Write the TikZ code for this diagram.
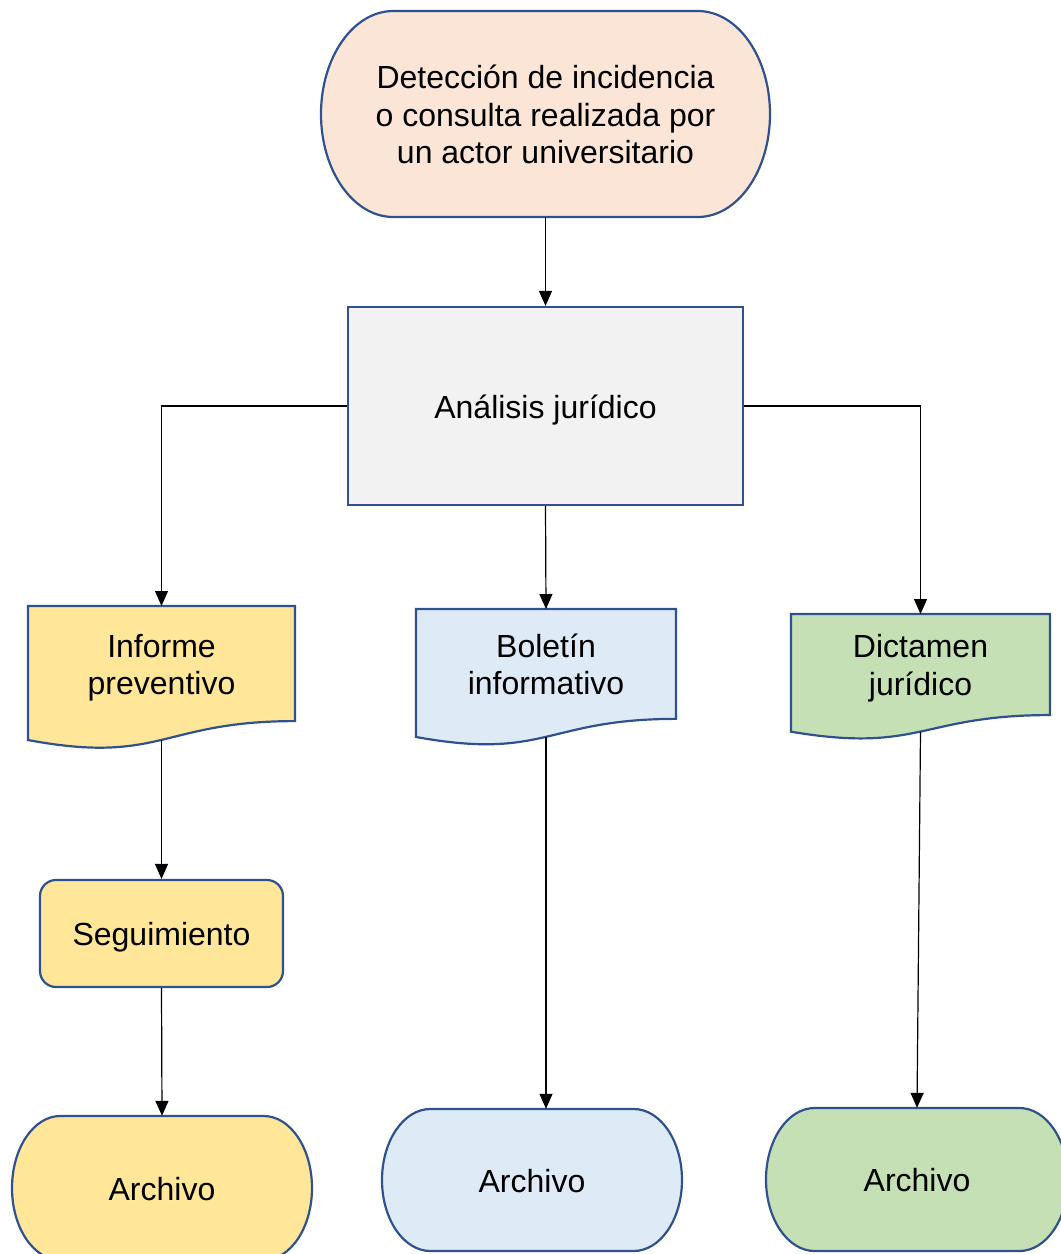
\documentclass[tikz,border=0pt]{standalone}
\usepackage{fontspec}
\setmainfont{Liberation Sans}
\usetikzlibrary{arrows.meta,calc}
\definecolor{bord}{HTML}{2F528F}
\definecolor{cpeach}{HTML}{FBE5D6}
\definecolor{cgray}{HTML}{F2F2F2}
\definecolor{cyel}{HTML}{FFE699}
\definecolor{cblue}{HTML}{DEEBF7}
\definecolor{cgreen}{HTML}{C5E0B4}
\tikzset{
  shapeline/.style={draw=bord, line width=2.2pt},
  txt/.style={font=\fontsize{32}{37.5}\selectfont, inner sep=0pt},
  arr/.style={draw=black, line width=1.2pt, -{Triangle[length=15pt,width=13pt]}},
}
\newcommand\tx[1]{\raisebox{-4.5pt}[\height][\depth]{\begin{tabular}{@{}c@{}}#1\end{tabular}}}
% terminator: name, cx, cy, w, h, fill, text
\newcommand\termnode[7]{%
  \pgfmathsetmacro\myrx{0.161*#4}%
  \pgfmathsetmacro\myhw{#4/2}%
  \pgfmathsetmacro\myhh{#5/2}%
  \filldraw[shapeline, fill=#6] (#2-\myhw+\myrx, #3-\myhh) -- (#2+\myhw-\myrx, #3-\myhh)
    arc[start angle=-90, end angle=90, x radius=\myrx, y radius=\myhh]
    -- (#2-\myhw+\myrx, #3+\myhh)
    arc[start angle=90, end angle=270, x radius=\myrx, y radius=\myhh] -- cycle;
  \node[txt, minimum width=#4, minimum height=#5] (#1) at (#2,#3) {\tx{#7}};
}
% document: name, x0, x1, y0, h, fill, text
\newcommand\docnode[7]{%
  \pgfmathsetmacro\mymx{(#2+#3)/2}%
  \pgfmathsetmacro\myya{#4+0.802*#5}%
  \pgfmathsetmacro\myyb{#4+1.1075*#5}%
  \pgfmathsetmacro\myyc{#4+0.934*#5}%
  \pgfmathsetmacro\myyd{#4+0.933*#5}%
  \filldraw[shapeline, fill=#6] (#2,#4) -- (#3,#4) -- (#3,\myya)
    .. controls (\mymx,\myya) and (\mymx,\myyb) .. (#2,\myyc) -- cycle;
  \node[txt, anchor=north, minimum width=#3-#2, minimum height=0.802*#5] (#1) at (\mymx,#4) {\tx{#7}};
  \coordinate (#1b) at (\mymx,\myyd);
}
\begin{document}
\begin{tikzpicture}[x=1pt,y=-1pt]
\useasboundingbox (0,0) rectangle (1061,1254);

\termnode{det}{545.5}{114}{449}{206}{cpeach}{Detección de incidencia\\o consulta realizada por\\un actor universitario}

\node[txt, shapeline, fill=cgray, minimum width=395, minimum height=198] (ana) at (545.5,406) {\tx{Análisis jurídico}};

\docnode{inf}{28}{295}{606}{143.5}{cyel}{Informe\\preventivo}
\docnode{bol}{416}{676}{609}{137}{cblue}{Boletín\\informativo}
\docnode{dic}{791}{1050}{614}{126}{cgreen}{Dictamen\\jurídico}

\node[txt, shapeline, fill=cyel, rounded corners=16pt, minimum width=243, minimum height=107] (seg) at (161.5,933.5) {\tx{Seguimiento}};

\termnode{arc1}{162}{1188}{300}{144}{cyel}{Archivo}
\termnode{arc2}{532}{1180}{300}{142}{cblue}{Archivo}
\termnode{arc3}{917}{1179.5}{302}{143}{cgreen}{Archivo}

\draw[arr] (det.south) -- (ana.north);
\draw[arr] (ana.west) -| (inf.north);
\draw[arr] (ana.south) -- (bol.north);
\draw[arr] (ana.east) -| (dic.north);
\draw[arr] (infb) -- (seg.north);
\draw[arr] (seg.south) -- (arc1.north);
\draw[arr] (bolb) -- (bolb |- arc2.north);
\draw[arr] (dicb) -- (arc3.north);
\end{tikzpicture}
\end{document}
